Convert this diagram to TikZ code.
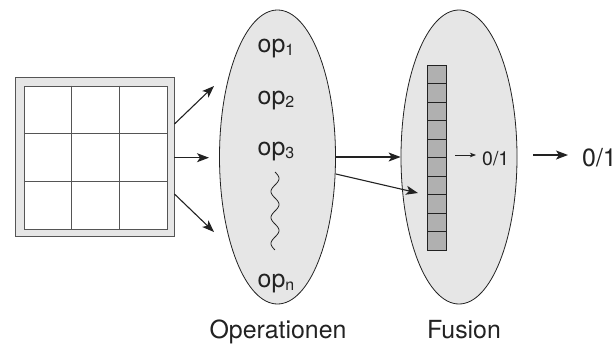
\documentclass[tikz,border=0pt]{standalone}
\usepackage{fontspec}
\setmainfont{TeX Gyre Heros}
\usetikzlibrary{arrows.meta,shapes.geometric,calc}
\definecolor{panel}{HTML}{E6E6E6}
\definecolor{cellgray}{HTML}{B0B0B0}
\definecolor{ink}{HTML}{222222}
\definecolor{rim}{HTML}{555555}
\newcommand\opidx[1]{\raisebox{-3bp}{\fontsize{16}{16}\selectfont #1}}
\begin{document}
\begin{tikzpicture}[x=1bp,y=-1bp,
  big/.style={font=\fontsize{25}{30}\selectfont, text=ink, inner sep=0},
  mid/.style={font=\fontsize{19.5}{23}\selectfont, text=ink},
  arr/.style={draw=ink, line width=1.1bp, -{Stealth[length=12bp,width=9bp,inset=3bp]}},
  thinarr/.style={draw=ink, line width=0.8bp, -{Stealth[length=6bp,width=4.5bp,inset=1.5bp]}},
  oval/.style={ellipse, draw=ink, fill=panel, line width=0.8bp,
               minimum width=116bp, minimum height=294bp, inner sep=0},
  cellbox/.style={draw=ink, fill=cellgray, line width=0.8bp,
                  minimum width=19bp, minimum height=18.5bp, inner sep=0}]
\useasboundingbox (0,0) rectangle (616,345);

% input image: grey frame with a 3x3 grid
\node[draw=rim, fill=panel, line width=0.9bp, minimum size=159bp, inner sep=0]
  (grid) at (94.5,157.2) {};
\node[draw=rim, fill=white, line width=0.9bp, minimum size=143bp, inner sep=0]
  (inner) at (95.8,157.5) {};
\foreach \k in {1,2} {
  \draw[rim, line width=1.2bp] ($(inner.north west)!\k/3!(inner.north east)$)
     -- ($(inner.south west)!\k/3!(inner.south east)$);
  \draw[rim, line width=1.2bp] ($(inner.north west)!\k/3!(inner.south west)$)
     -- ($(inner.north east)!\k/3!(inner.south east)$);
}

% the two ellipses
\node[oval] (ops) at (277.5,157) {};
\node[oval] (fus) at (459,157) {};

% operations
\node[big, anchor=base] (op1) at (276,52) {op\opidx{1}};
\node[big, anchor=base] (op2) at (276,104) {op\opidx{2}};
\node[big, anchor=base] (op3) at (276,155) {op\opidx{3}};
\node[big, anchor=base] (opn) at (276,287) {op\opidx{n}};
\draw[ink, line width=0.8bp] plot[domain=0:1, samples=120, smooth]
  ({275+4*sin(3*360*\x)}, {172+78*\x});

% fusion vector
\foreach \i in {0,...,9}
  \node[cellbox] (c\i) at (437.2, {74.25+18.5*\i}) {};

% output labels
\node[mid, anchor=base west, inner xsep=6bp, inner ysep=0] (small01) at (476,165) {0/1};
\node[big, anchor=base west, inner xsep=14bp] (big01) at (568,166) {0/1};

% captions
\node[big, anchor=base] (capops) at (278,338.5) {Operationen};
\node[big, anchor=base] (capfus) at (464,338.5) {Fusion};

% connectors
\coordinate (t1) at (214,86);
\coordinate (t2) at (209,157.7);
\coordinate (t3) at (214,232);
\draw[arr] ([yshift=33.2bp]grid.east) -- (t1);
\draw[arr] (grid.east |- t2) -- (t2);
\draw[arr] ([yshift=-36.8bp]grid.east) -- (t3);

\coordinate (f2) at (418,193);
\draw[arr] (ops.east) -- (fus.west);
\draw[arr] ([yshift=-17bp]ops.east) -- (f2);

\coordinate (s0) at (455,155);
\draw[thinarr] (s0) -- (s0 -| small01.west);
\coordinate (b0) at (533,155);
\draw[arr] (b0) -- (b0 -| big01.west);
\end{tikzpicture}
\end{document}
